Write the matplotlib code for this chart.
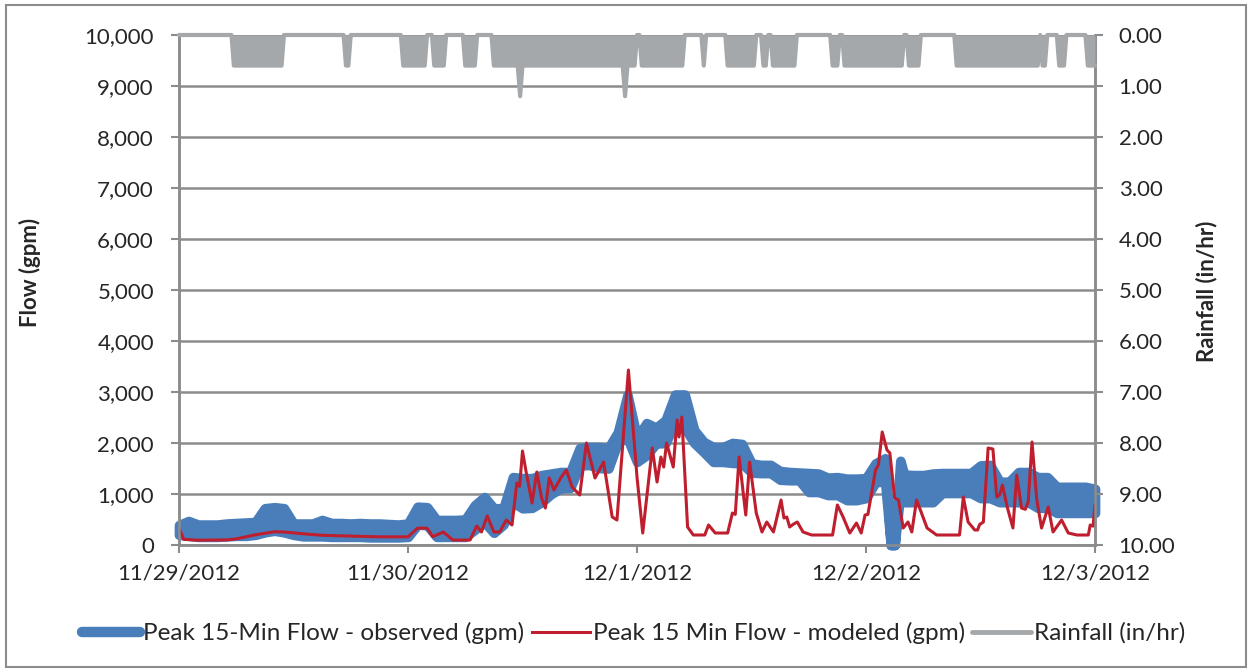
import numpy as np
import pandas as pd
import matplotlib
matplotlib.use('Agg')
import matplotlib.pyplot as plt
from matplotlib.lines import Line2D
from matplotlib.patches import Rectangle

plt.rcParams['font.family'] = ['Lato', 'DejaVu Sans']

start = pd.Timestamp('2012-11-29')
day_labels = ['11/29/2012', '11/30/2012', '12/1/2012', '12/2/2012', '12/3/2012']

# observed peak 15-min flow (gpm): the 15-min record swings between a high and
# a low reading, so it is kept as hourly highs / lows
obs_hours = list(range(0, 75)) + [74.6, 75.0, 75.6] + list(range(76, 97))
obs_high = [
    390, 470, 400, 400, 400, 420, 430, 440, 450, 720, 740, 720,
    420, 420, 420, 490, 430, 430, 420, 430, 420, 420, 410, 400,
    420, 750, 740, 490, 490, 490, 500, 780, 940, 720, 720, 1330,
    1310, 1310, 1370, 1400, 1430, 1430, 1900, 1920, 1920, 1900, 2210, 2940,
    2100, 2390, 2300, 2450, 2950, 2950, 2250, 2020, 1920, 1920, 2000, 1980,
    1600, 1570, 1570, 1450, 1430, 1420, 1410, 1400, 1320, 1330, 1300, 1300,
    1310, 1600, 1700, 0, 0, 1650,
    1380, 1370, 1370, 1400, 1410, 1410, 1410, 1410, 1560, 1570, 1240, 1240,
    1430, 1430, 1330, 1330, 1140, 1140, 1140, 1140, 1100,
]
obs_low = [
    200, 180, 160, 160, 160, 170, 180, 180, 200, 250, 280, 250,
    200, 170, 170, 170, 160, 160, 160, 160, 150, 150, 150, 150,
    160, 400, 390, 160, 160, 160, 160, 300, 450, 240, 400, 840,
    720, 730, 840, 1000, 1110, 1120, 1560, 1570, 1510, 1500, 2020, 2100,
    1630, 1760, 1990, 2000, 2410, 2300, 2000, 1820, 1630, 1630, 1610, 1600,
    1420, 1410, 1410, 1280, 1270, 1270, 1040, 1040, 980, 980, 880, 880,
    920, 1230, 1250, 0, 0, 1040,
    840, 840, 840, 840, 1020, 1020, 1020, 1020, 920, 920, 840, 840,
    840, 840, 730, 730, 630, 630, 630, 630, 630,
]

# modeled peak 15-min flow (gpm), breakpoints
mod_hours = [
    0, 0.5, 2, 5, 6, 8, 10, 11, 13, 15, 18, 21, 24,
    25, 26, 26.6, 27.7, 28.7, 30.5, 31.2, 31.7, 32.3, 33, 33.6, 34.3, 34.9,
    35.4, 35.7, 36, 36.4, 37, 37.5, 38, 38.4, 38.8, 39.3, 40, 40.6, 41.2,
    42, 42.7, 43.6, 44.5, 45.4, 45.9, 47.1, 48, 48.6, 49.6, 50.1, 50.5,
    50.8, 51.1, 51.8, 52.2, 52.4, 52.7, 53.3, 53.9, 55.1, 55.5, 56.2, 57.5,
    58, 58.3, 58.7, 59.4, 59.8, 60.5, 61.1, 61.6, 62.3, 63.1, 63.4, 63.7,
    64, 64.4, 64.8, 65.4, 66.3, 68.5, 69, 69.6, 70.3, 71, 71.5, 71.9, 72.2,
    73, 73.3, 73.7, 74.2, 74.5, 75, 75.4, 75.9, 76.4, 76.8, 77.3, 77.7,
    78.4, 79.4, 81.8, 82.2, 82.7, 83.4, 83.7, 83.9, 84.3, 84.8, 85.3, 85.7,
    86, 86.3, 86.8, 87.4, 87.8, 88.3, 88.7, 89, 89.4, 89.9, 90.4, 91.1,
    91.6, 92.5, 93.2, 94.1, 95.3, 95.5, 95.8, 96,
]
mod_flow = [
    330, 110, 95, 100, 120, 200, 260, 255, 220, 190, 175, 160, 160,
    330, 330, 163, 255, 98, 98, 372, 255, 570, 255, 255, 490, 392,
    1216, 1150, 1843, 1412, 824, 1431, 922, 725, 1314, 1078, 1314, 1470, 1137,
    980, 2000, 1314, 1627, 550, 490, 3431, 1333, 235, 1902, 1235, 1725,
    1529, 2000, 1529, 2451, 2118, 2510, 353, 196, 196, 392, 235, 235,
    627, 600, 1725, 588, 1627, 627, 255, 451, 255, 882, 529, 548,
    353, 410, 451, 255, 196, 196, 784, 549, 235, 431, 235, 588, 600,
    1470, 1569, 2216, 1863, 1804, 922, 882, 333, 451, 255, 882, 686,
    333, 196, 196, 941, 451, 294, 294, 400, 451, 1902, 1882, 941,
    980, 1176, 745, 333, 1373, 725, 700, 843, 2020, 882, 333, 745,
    255, 490, 235, 196, 196, 392, 370, 784,
]

# rainfall (in/hr): periods at 0.60 in/hr, plus two 1.20 in/hr readings
rain_start = [5.6, 17.5, 23.5, 26.6, 29.9, 33.0, 48.4, 55.0, 57.3, 61.2, 62.2,
              68.3, 69.7, 76.4, 81.4, 90.5, 92.2, 95.1]
rain_end = [10.8, 17.8, 25.9, 27.8, 31.2, 47.9, 52.9, 55.2, 60.3, 61.6, 64.7,
            69.2, 75.8, 77.6, 90.1, 90.9, 92.8, 96.0]
rain_rate = 0.6
rain_peak_hours = [35.75, 46.75]
rain_peak_rate = 1.2

# 15-min rainfall record built from the periods above
rain_t = np.arange(0, 96.25, 0.25)
rain = np.zeros_like(rain_t)
for s, e in zip(rain_start, rain_end):
    rain[(rain_t >= s) & (rain_t <= e)] = rain_rate
for h in rain_peak_hours:
    rain[np.argmin(np.abs(rain_t - h))] = rain_peak_rate

to_time = lambda h: start + pd.to_timedelta(np.asarray(h, dtype=float), unit='h')

blue = '#4a7ebb'
red = '#be1e2d'
grey = '#a5a8ab'
grid = '#8c8c8c'
txt = '#262626'

fig = plt.figure(figsize=(12.52, 6.72), dpi=100)
fig.patches.append(Rectangle((0.005, 0.007), 0.99, 0.986, transform=fig.transFigure,
                             fill=False, edgecolor='#8c8c8c', linewidth=1.5))
ax = fig.add_axes([179 / 1252, 1 - 545 / 672, (1095 - 179) / 1252, (545 - 35) / 672])
ax2 = ax.twinx()

# observed: band between the hourly highs and lows, stroked with the thick line
ax.fill_between(to_time(obs_hours), obs_low, obs_high, facecolor=blue, edgecolor=blue,
                lw=7, joinstyle='round', zorder=3, clip_on=False)
ax.plot(to_time(mod_hours), mod_flow, color=red, lw=2.2, zorder=4)

ax2.fill_between(to_time(rain_t), 0, rain, color=grey, lw=0, zorder=3)
ax2.plot(to_time(rain_t), rain, color=grey, lw=3, solid_capstyle='round', zorder=3, clip_on=False)

ax.set_ylim(0, 10000)
ax.set_yticks(np.arange(0, 10001, 1000))
ax.set_yticklabels([f'{v:,}' for v in range(0, 10001, 1000)])
ax2.set_ylim(10, 0)
ax2.set_yticks(np.arange(0, 11, 1))
ax2.set_yticklabels([f'{v:.2f}' for v in range(0, 11)])

days = pd.date_range('2012-11-29', '2012-12-03', freq='D')
ax.set_xlim(days[0], days[-1])
ax.set_xticks(days)
ax.set_xticklabels(day_labels)

ax.grid(axis='y', color=grid, lw=1.8, zorder=0)
ax.set_axisbelow(True)
for a in (ax, ax2):
    a.spines['top'].set_visible(False)
    for side in ('left', 'right', 'bottom'):
        a.spines[side].set_color(grid)
        a.spines[side].set_linewidth(1.8)
ax.tick_params(axis='y', length=6, width=1.5, color=grid, labelsize=16, pad=12, labelcolor=txt)
ax.tick_params(axis='x', length=6, width=1.5, color=grid, labelsize=16, pad=7, labelcolor=txt)
ax2.tick_params(axis='y', length=6, width=1.5, color=grid, labelsize=16, pad=11, labelcolor=txt)

fig.text(30 / 1252, 1 - 272 / 672, 'Flow (gpm)', rotation=90, ha='center', va='center',
         fontsize=16, fontweight='bold', color=txt)
fig.text(1207 / 1252, 1 - 291 / 672, 'Rainfall (in/hr)', rotation=90, ha='center', va='center',
         fontsize=16, fontweight='bold', color=txt)

handles = [Line2D([0], [0], color=blue, lw=7.5, solid_capstyle='round'),
           Line2D([0], [0], color=red, lw=2.2),
           Line2D([0], [0], color=grey, lw=3.5, solid_capstyle='round')]
labels = ['Peak 15-Min Flow - observed (gpm)', 'Peak 15 Min Flow - modeled (gpm)', 'Rainfall (in/hr)']
fig.legend(handles, labels, loc='center', bbox_to_anchor=(0.506, 1 - 633 / 672), ncol=3,
           frameon=False, fontsize=17.5, handlelength=2.4, handletextpad=0.12,
           columnspacing=0.3, labelcolor=txt)

fig.savefig('out.png', dpi=100)
